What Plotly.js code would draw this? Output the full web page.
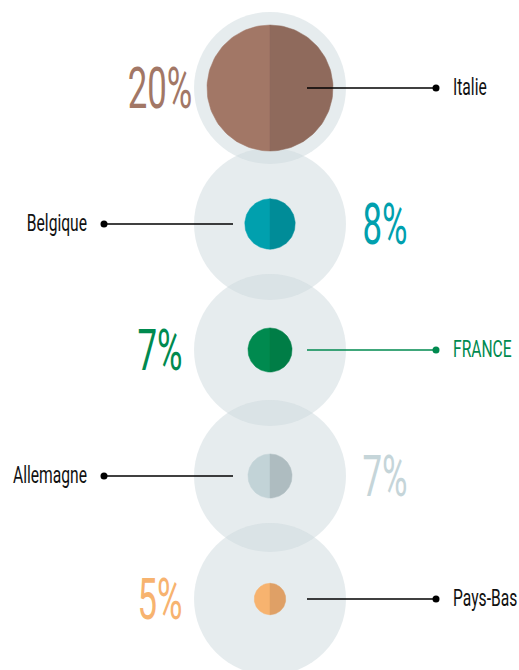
<!DOCTYPE html>
<html>
<head>
<meta charset="utf-8">
<script src="https://cdn.plot.ly/plotly-3.0.1.min.js"></script>
<style>
  html, body { margin: 0; padding: 0; background: #ffffff; }
  #chart { width: 519px; height: 670px; }
</style>
</head>
<body>
<div id="chart"></div>
<script>
// ---- data ----
const countries = ['Italie', 'Belgique', 'FRANCE', 'Allemagne', 'Pays-Bas'];
const shares = [20, 8, 7, 7, 5];
const shareLabels = ['20%', '8%', '7%', '7%', '5%'];
const lightColors = ['#a27766', '#00a0ae', '#008a4f', '#c2d3d7', '#f7b36f'];
const darkColors = ['#8f6a5c', '#008c98', '#007d46', '#aebcc0', '#dfa066'];
const labelColors = ['#111111', '#111111', '#008a4f', '#111111', '#111111'];
const shareTextColors = ['#a27766', '#00a0ae', '#008a4f', '#c5d5d9', '#f7b36f'];

// ---- layout constants ----
const W = 519, H = 670;
const cx = 270;
const rowY = [88, 224, 350, 476, 599];
const bgRadius = 76;
const pxPerPercent = 3.15;
const lineInner = 37, lineOuter = 166, labelGap = 183;
const pctLeft = -110, pctRight = 115, pctDy = 6, labelDy = 1;
const labelFont = 'Roboto, Liberation Sans, sans-serif';
const labelScale = 0.68, pctScale = 0.6;

const traces = [];

// background discs
traces.push({
  type: 'scatter', mode: 'markers',
  x: rowY.map(() => cx), y: rowY,
  marker: { size: bgRadius * 2, color: 'rgba(205,217,221,0.5)', line: { width: 0 } },
  hoverinfo: 'skip'
});

// half discs
function halfDisc(xc, yc, r, side) {
  const xs = [], ys = [];
  const n = 72;
  for (let k = 0; k <= n; k++) {
    const a = -Math.PI / 2 + Math.PI * k / n;
    xs.push(xc + side * r * Math.cos(a));
    ys.push(yc + r * Math.sin(a));
  }
  xs.push(xc); ys.push(yc - r);
  return { xs, ys };
}

countries.forEach((c, i) => {
  const r = shares[i] * pxPerPercent;
  [[-1, lightColors[i]], [1, darkColors[i]]].forEach(([side, col]) => {
    const p = halfDisc(cx, rowY[i], r, side);
    traces.push({
      type: 'scatter', mode: 'lines', x: p.xs, y: p.ys,
      fill: 'toself', fillcolor: col, line: { width: 0.5, color: col },
      hoverinfo: 'skip'
    });
  });
});

// leader lines and dots
countries.forEach((c, i) => {
  const side = i % 2 === 0 ? 1 : -1;
  const col = i === 2 ? labelColors[i] : '#000000';
  traces.push({
    type: 'scatter', mode: 'lines',
    x: [cx + side * lineInner, cx + side * lineOuter], y: [rowY[i], rowY[i]],
    line: { color: col, width: 1.6 }, hoverinfo: 'skip'
  });
  traces.push({
    type: 'scatter', mode: 'markers',
    x: [cx + side * lineOuter], y: [rowY[i]],
    marker: { size: 7, color: col, line: { width: 0 } }, hoverinfo: 'skip'
  });
});

// country labels
countries.forEach((c, i) => {
  const side = i % 2 === 0 ? 1 : -1;
  traces.push({
    type: 'scatter', mode: 'text',
    x: [cx + side * labelGap], y: [rowY[i] + labelDy],
    text: [c], textposition: side === 1 ? 'middle right' : 'middle left',
    textfont: { family: labelFont, size: 23, weight: 400, color: labelColors[i] },
    hoverinfo: 'skip'
  });
});

// percentage labels
countries.forEach((c, i) => {
  const side = i % 2 === 0 ? 1 : -1;
  traces.push({
    type: 'scatter', mode: 'text',
    x: [cx + (side === 1 ? pctLeft : pctRight)], y: [rowY[i] + pctDy],
    text: [shareLabels[i]], textposition: 'middle center',
    textfont: { family: labelFont, size: 58, weight: 400, color: shareTextColors[i] },
    hoverinfo: 'skip'
  });
});

const layout = {
  width: W, height: H,
  margin: { l: 0, r: 0, t: 0, b: 0, pad: 0 },
  paper_bgcolor: '#ffffff', plot_bgcolor: '#ffffff',
  showlegend: false,
  xaxis: { range: [0, W], visible: false, fixedrange: true },
  yaxis: { range: [H, 0], visible: false, fixedrange: true },
  hovermode: false
};

// narrow the condensed-looking texts horizontally, anchored at their alignment point
function condenseTexts() {
  document.querySelectorAll('#chart .textpoint text').forEach(el => {
    const anchor = el.getAttribute('text-anchor') || getComputedStyle(el).textAnchor || 'middle';
    const x = parseFloat(el.getAttribute('x')) || 0;
    const s = anchor === 'middle' ? pctScale : labelScale;
    el.setAttribute('transform', `translate(${x},0) scale(${s},1) translate(${-x},0)`);
  });
}

Plotly.newPlot('chart', traces, layout, { staticPlot: true, displayModeBar: false }).then(condenseTexts);
</script>
</body>
</html>
